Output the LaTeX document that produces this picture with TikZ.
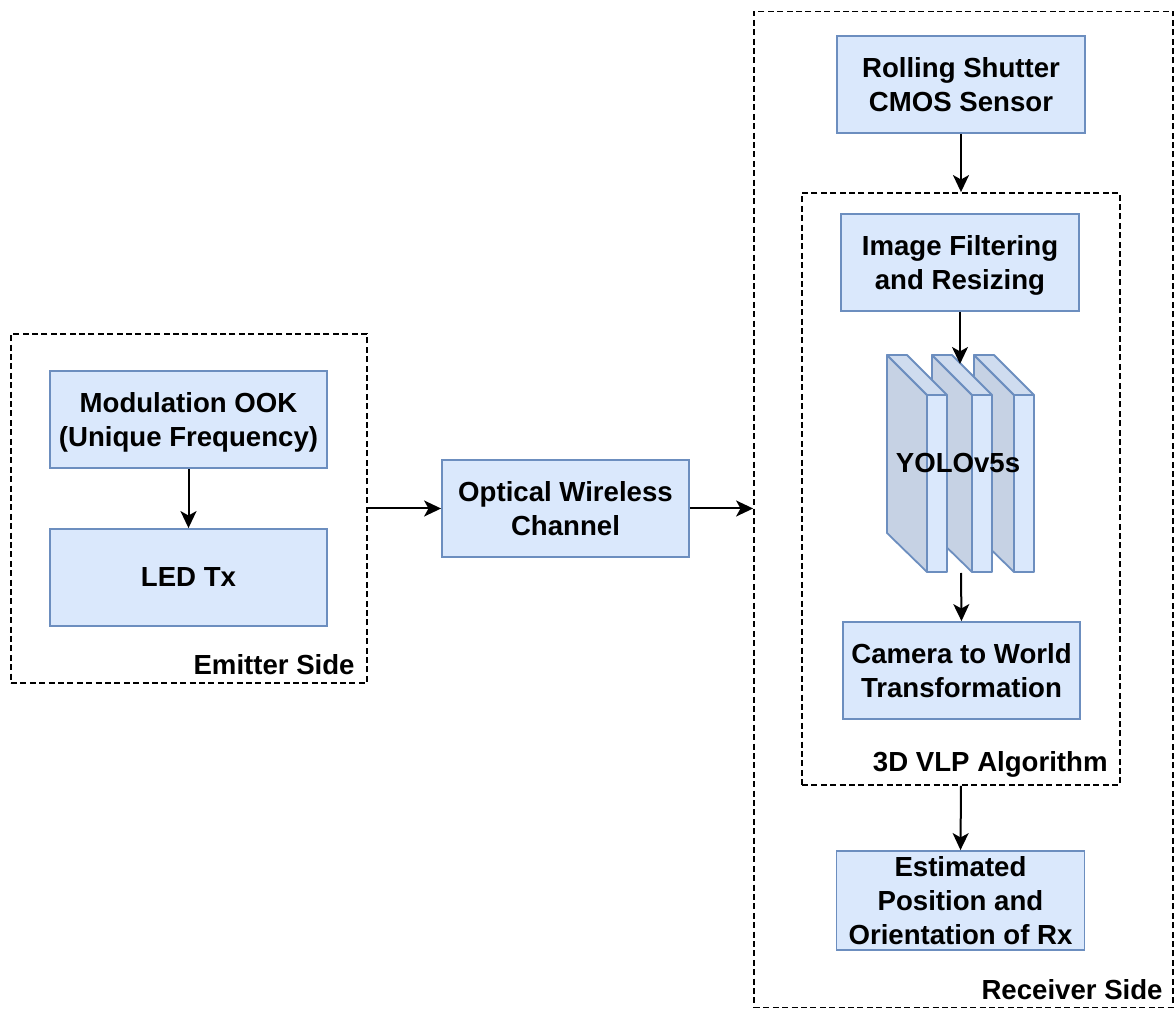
\documentclass[tikz,border=0pt]{standalone}
\usepackage{fontspec}
\setmainfont{Liberation Sans}
\usetikzlibrary{arrows.meta}
\definecolor{boxfill}{HTML}{DAE8FC}
\definecolor{boxline}{HTML}{6C8EBF}
\definecolor{sideface}{HTML}{C6D2E4}
\definecolor{topface}{HTML}{CFDCEF}
\newcommand{\lblfont}{\fontsize{13.8}{17}\selectfont\bfseries}

\begin{document}
\begin{tikzpicture}[x=0.5pt,y=-0.5pt,
  box/.style={draw=boxline, fill=boxfill, line width=0.9pt, align=center,
    font=\lblfont, inner sep=0pt, text depth=0pt, minimum height=48.5pt},
  group/.style={draw=black, line width=0.9pt, dash pattern=on 3pt off 1.7pt,
    inner sep=0pt},
  grouplabel/.style={font=\lblfont, anchor=base east, inner sep=0pt},
  slabline/.style={draw=boxline, line width=0.9pt, line join=round},
  arr/.style={line width=1pt, -{Stealth[length=8.5pt, width=8pt, inset=2.2pt]}}]

\useasboundingbox (0,0) rectangle (1175,1010);

% ---- dashed groups ----
\node[group, minimum width=178pt, minimum height=174.5pt] (emit) at (189,508.5) {};
\node[grouplabel] (emitlbl) at (355,675) {Emitter Side};

\node[group, minimum width=209.5pt, minimum height=498pt] (recv) at (963.5,509.5) {};
\node[grouplabel] (recvlbl) at (1163,1000) {Receiver Side};

\node[group, minimum width=159pt, minimum height=296pt] (alg) at (961,489) {};
\node[grouplabel] (alglbl) at (1108,772) {3D VLP Algorithm};

% ---- emitter side ----
\node[box, minimum width=138.5pt] (mod) at (188.5,419.5) {Modulation OOK\\(Unique Frequency)};
\node[box, minimum width=138.5pt] (led) at (188.5,577.5) {LED Tx};

% ---- channel ----
\node[box, minimum width=123.5pt] (owc) at (565.5,508.5) {Optical Wireless\\Channel};

% ---- receiver side ----
\node[box, minimum width=124pt] (roll) at (961,84.5) {Rolling Shutter\\CMOS Sensor};
\node[box, minimum width=119pt] (filt) at (960,262.5) {Image Filtering\\and Resizing};
\node[box, minimum width=118.5pt] (cam) at (961.5,670.5) {Camera to World\\Transformation};
\node[box, minimum width=124pt, minimum height=49.5pt] (est) at (960.5,900.5)
  {Estimated\\Position and\\Orientation of Rx};

% ---- YOLOv5s layer stack (back to front) ----
\foreach \bx in {974,932,887} {
  \filldraw[slabline, fill=sideface] (\bx,355) -- (\bx+40,395) -- (\bx+40,572) -- (\bx,533) -- cycle;
  \filldraw[slabline, fill=topface] (\bx,355) -- (\bx+20,355) -- (\bx+60,395) -- (\bx+40,395) -- cycle;
  \filldraw[slabline, fill=boxfill] (\bx+40,395) rectangle (\bx+60,572);
}
\node[font=\lblfont, inner sep=0pt] (yolo) at (958,463) {YOLOv5s};
\coordinate (yolotop) at (960,364);
\coordinate (yolobot) at (961,573);

% ---- connectors ----
\draw[arr] (mod) -- (led);
\draw[arr] (emit.east) -- (owc.west);
\draw[arr] (owc.east) -- (owc.east -| recv.west);
\draw[arr] (roll) -- (alg.north);
\draw[arr] (filt.south) -- (yolotop);
\draw[arr] (yolobot) -- (cam.north);
\draw[arr] (alg.south) -- (est.north);

\end{tikzpicture}
\end{document}
